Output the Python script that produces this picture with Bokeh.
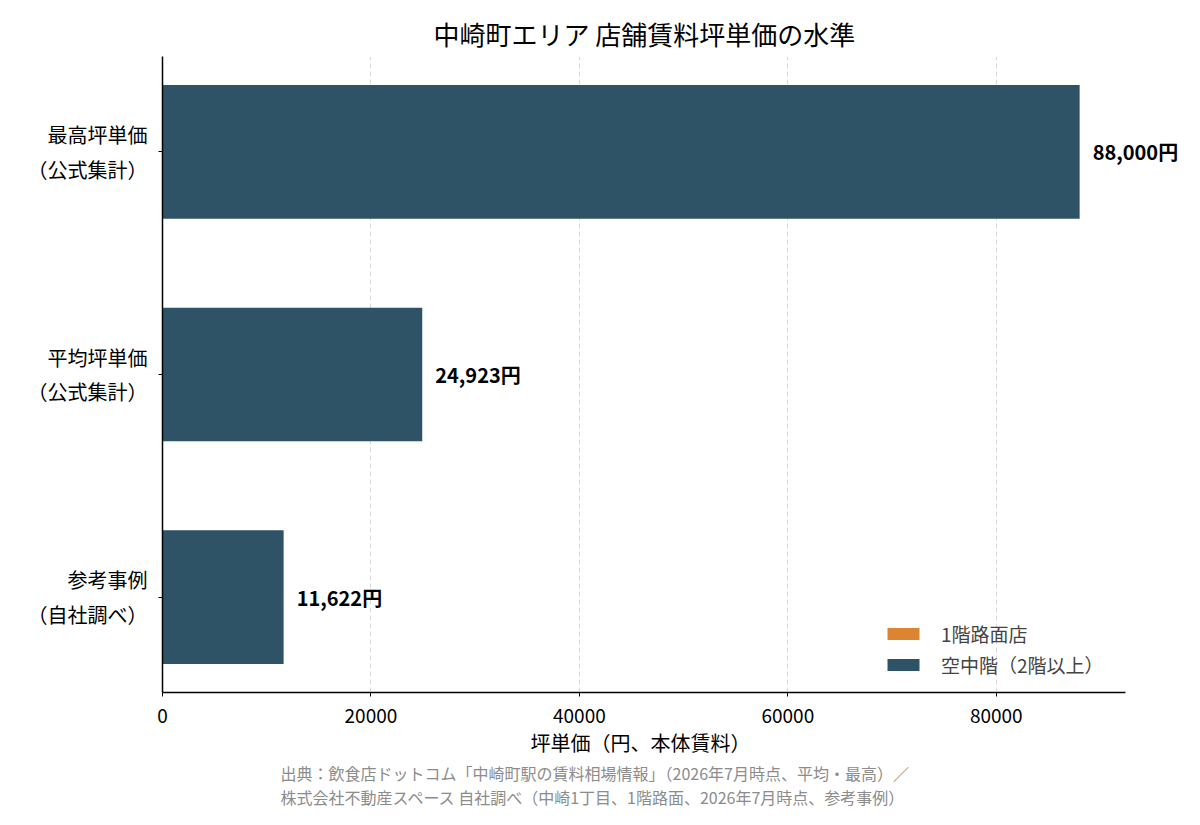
import math
from bokeh.plotting import figure
from bokeh.models import (ColumnDataSource, Range1d, FixedTicker,
                          Legend, LegendItem, Title, Label)
from bokeh.embed import file_html
from bokeh.resources import INLINE

# ---- data ----
categories = ["最高坪単価\n（公式集計）", "平均坪単価\n（公式集計）", "参考事例\n（自社調べ）"]
upper_floor_values = [88000, 24923, 11622]
street_level_values = [math.nan, math.nan, math.nan]   # no street-level figures shown
value_labels = ["88,000円", "24,923円", "11,622円"]
x_ticks = [0, 20000, 40000, 60000, 80000]
series_names = ["1階路面店", "空中階（2階以上）"]
title_text = "中崎町エリア 店舗賃料坪単価の水準"
x_label = "坪単価（円、本体賃料）"
footer_lines = ["出典：飲食店ドットコム「中崎町駅の賃料相場情報」（2026年7月時点、平均・最高）／",
                "株式会社不動産スペース 自社調べ（中崎1丁目、1階路面、2026年7月時点、参考事例）"]

FONT = "Noto Sans CJK JP"
DARK = "#2e5266"
ORANGE = "#dd8430"

W, H = 1184, 809
LEFT, TOP = 162, 56
AXIS_PX = 963            # length of the drawn x axis in pixels
n = len(categories)
positions = [n - 1 - i for i in range(n)]   # first category on top
pad = 0.4285
x_lim = max(upper_floor_values) * 1.05
frame_px = W - LEFT
x_end = x_lim * frame_px / AXIS_PX           # frame extends right so value labels fit

p = figure(width=W, height=H, output_backend="svg", toolbar_location=None,
           y_range=Range1d(-pad, n - 1 + pad),
           x_range=Range1d(0, x_end),
           min_border_left=LEFT, min_border_right=0, min_border_top=TOP,
           min_border_bottom=20)
p.outline_line_color = None

p.title.text = title_text
p.title.text_font = FONT
p.title.text_font_size = "26px"
p.title.text_font_style = "normal"
p.title.text_color = "#000000"
p.title.align = "left"
p.title.offset = 271
p.title.standoff = 9

src = ColumnDataSource(dict(pos=positions, val=upper_floor_values, lab=value_labels))
street_src = ColumnDataSource(dict(pos=positions, val=street_level_values))

r_street = p.hbar(y="pos", right="val", left=0, height=0.6, source=street_src,
                  fill_color=ORANGE, line_color=None)
r_upper = p.hbar(y="pos", right="val", left=0, height=0.6, source=src,
                 fill_color=DARK, line_color=None)

for y, v, lab in zip(positions, upper_floor_values, value_labels):
    p.add_layout(Label(x=v, y=y, text=lab, x_offset=13,
                       text_font=FONT, text_font_size="20px", text_font_style="bold",
                       text_align="left", text_baseline="middle", text_color="#000000"))

# axes
p.xaxis.ticker = FixedTicker(ticks=x_ticks)
p.xaxis.bounds = (0, x_lim)
p.yaxis.ticker = FixedTicker(ticks=positions)
p.yaxis.major_label_overrides = {y: c for y, c in zip(positions, categories)}
for ax in (p.xaxis[0], p.yaxis[0]):
    ax.major_label_text_font = FONT
    ax.major_label_text_color = "#000000"
    ax.axis_line_color = "#000000"
    ax.axis_line_width = 1.5
    ax.major_tick_line_color = "#000000"
    ax.major_tick_in = 0
    ax.major_tick_out = 4
    ax.minor_tick_line_color = None
p.xaxis.major_label_text_font_size = "19px"
p.yaxis.major_label_text_font_size = "20px"
p.xaxis.major_label_standoff = 12
p.yaxis.major_label_standoff = 11

p.ygrid.grid_line_color = None
p.xgrid.ticker = FixedTicker(ticks=x_ticks)
p.xgrid.grid_line_color = "#d9d9d9"
p.xgrid.grid_line_dash = "5 3"
p.xgrid.grid_line_width = 1

legend = Legend(items=[LegendItem(label=series_names[0], renderers=[r_street]),
                       LegendItem(label=series_names[1], renderers=[r_upper])],
                location=(721, 14), border_line_color=None,
                background_fill_alpha=0, glyph_width=40, glyph_height=15,
                label_text_font=FONT, label_text_font_size="19px",
                label_standoff=18, spacing=4, margin=0, padding=0)
p.add_layout(legend)

# x-axis label, centred under the drawn axis (not the wider frame)
xlab = Title(text=x_label, align="left", offset=368,
             text_font=FONT, text_font_size="20px", text_font_style="normal",
             text_color="#000000", standoff=1)
p.add_layout(xlab, "below")

footer = Title(text="\n".join(footer_lines), align="left", offset=118,
               text_font=FONT, text_font_size="16px", text_font_style="normal",
               text_color="#8c8c8c", standoff=2)
p.add_layout(footer, "below")

open("out.html", "w").write(file_html(p, INLINE))
